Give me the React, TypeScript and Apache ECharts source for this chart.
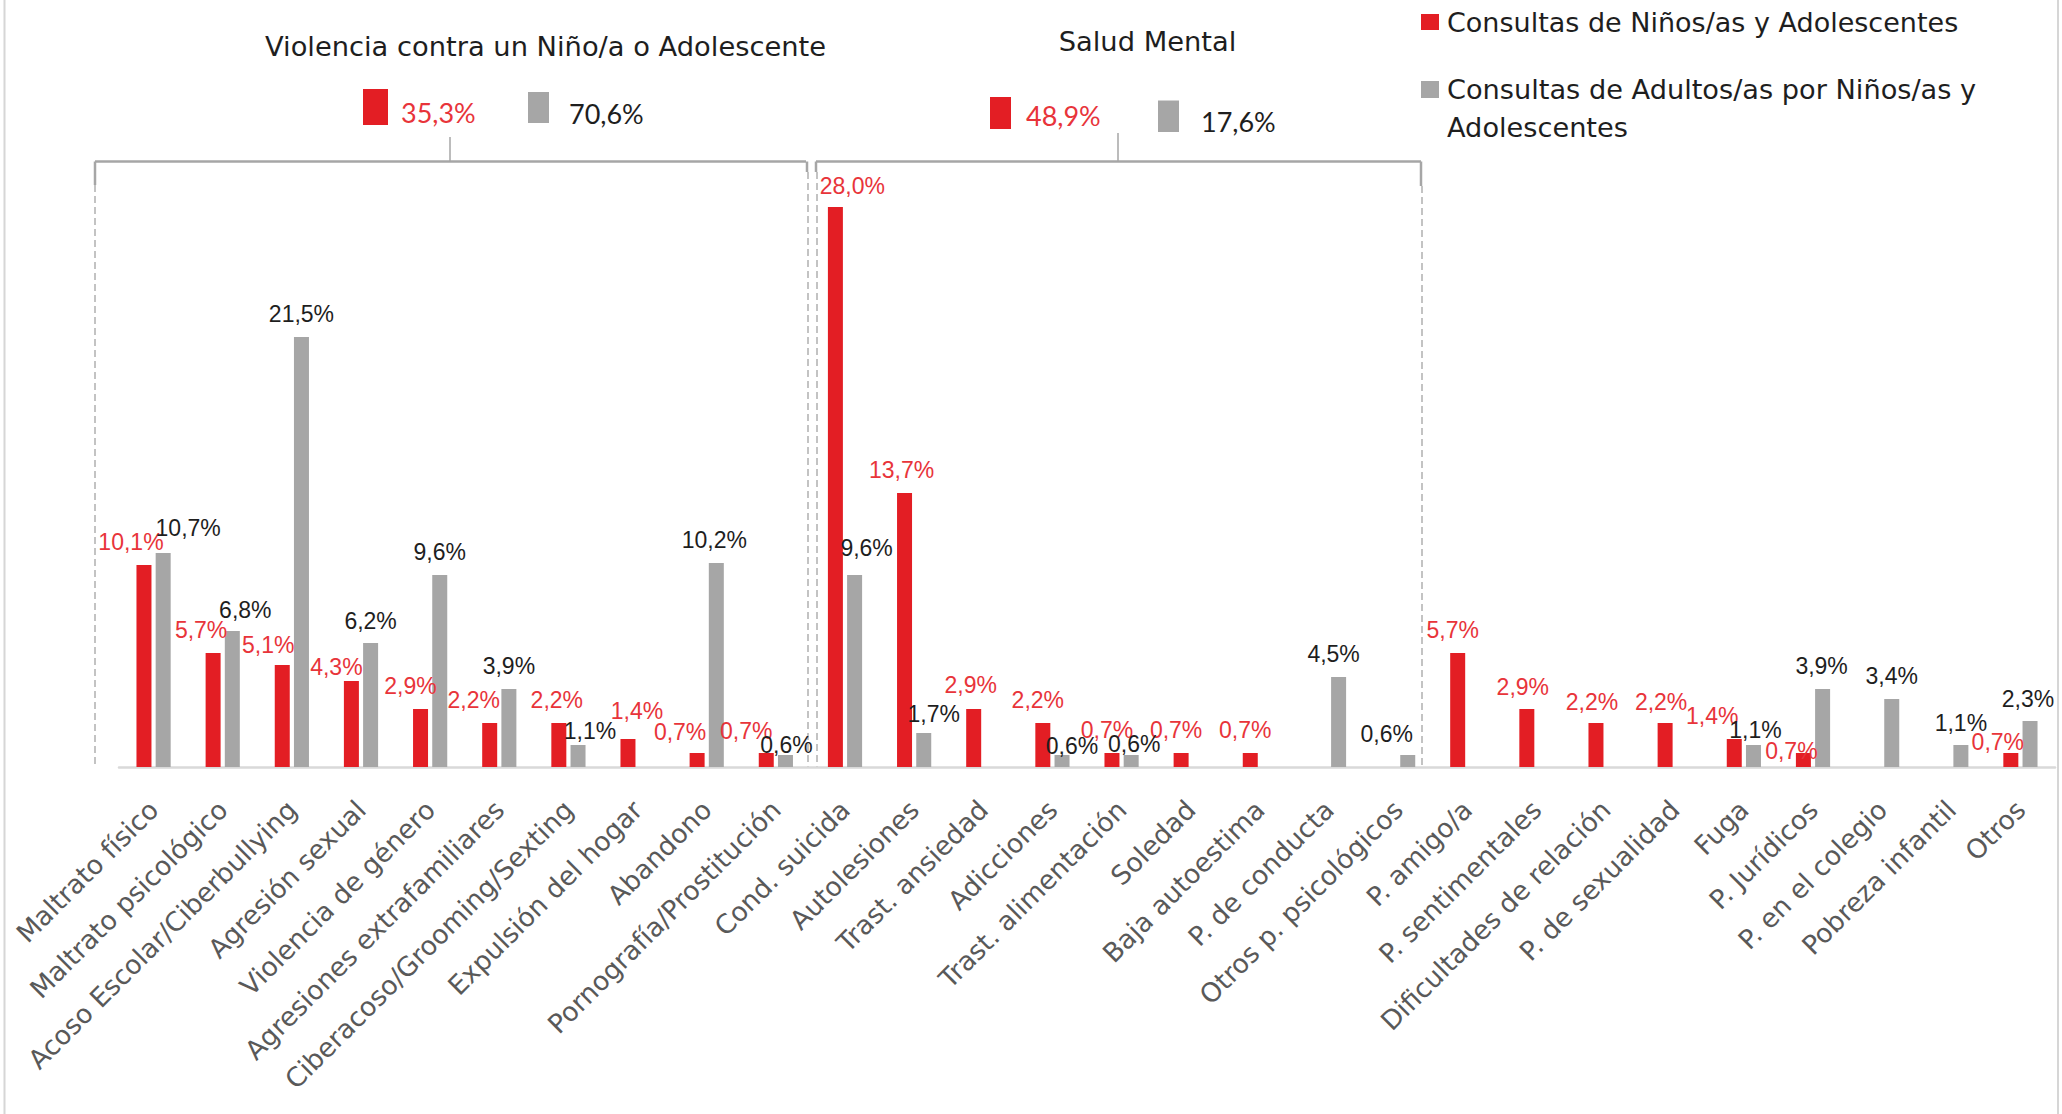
import React, { useEffect, useRef } from "react";
import * as echarts from "echarts";

const categories = [
  "Maltrato físico",
  "Maltrato psicológico",
  "Acoso Escolar/Ciberbullying",
  "Agresión sexual",
  "Violencia de género",
  "Agresiones extrafamiliares",
  "Ciberacoso/Grooming/Sexting",
  "Expulsión del hogar",
  "Abandono",
  "Pornografía/Prostitución",
  "Cond. suicida",
  "Autolesiones",
  "Trast. ansiedad",
  "Adicciones",
  "Trast. alimentación",
  "Soledad",
  "Baja autoestima",
  "P. de conducta",
  "Otros p. psicológicos",
  "P. amigo/a",
  "P. sentimentales",
  "Dificultades de relación",
  "P. de sexualidad",
  "Fuga",
  "P. Jurídicos",
  "P. en el colegio",
  "Pobreza infantil",
  "Otros",
];

const childValues = [
  10.1, 5.7, 5.1, 4.3, 2.9, 2.2, 2.2, 1.4, 0.7, 0.7,
  28.0, 13.7, 2.9, 2.2, 0.7, 0.7, 0.7, null, null,
  5.7, 2.9, 2.2, 2.2, 1.4, 0.7, null, null, 0.7,
];

const adultValues = [
  10.7, 6.8, 21.5, 6.2, 9.6, 3.9, 1.1, null, 10.2, 0.6,
  9.6, 1.7, null, 0.6, 0.6, null, null, 4.5, 0.6,
  null, null, null, null, 1.1, 3.9, 3.4, 1.1, 2.3,
];

const seriesNames = [
  "Consultas de Niños/as y Adolescentes",
  "Consultas de Adultos/as por Niños/as y Adolescentes",
];

const groupTitles = ["Violencia contra un Niño/a o Adolescente", "Salud Mental"];
const groupChildTotals = [35.3, 48.9];
const groupAdultTotals = [70.6, 17.6];

// label nudges (style only), [dx, dy] in px
const childLabelOffsets = [
  [-13, 0], [-12, 0], [-14, 3], [-15, 9], [-10, 0], [-16, 0], [-2, 0], [9, -5], [-17, 2], [-20, 1],
  [17, 2], [-3, 0], [-3, -1], [-5, 0], [-5, 0], [-5, 0], [-5, 0], null, null,
  [-5, 0], [-4, 1], [-4, 2], [-4, 2], [-22, 0], [-12, 21], null, null, [-13, 12],
];
const adultLabelOffsets = [
  [25, -2], [13, 2], [0, 0], [0, 1], [0, 0], [0, 0], [12, 9], null, [-2, 0], [1, 13],
  [12, -4], [10, 4], null, [10, 14], [3, 12], null, null, [-5, 0], [-21, 2],
  null, null, null, null, [2, 8], [-1, 0], [0, 0], [0, 1], [-2, 1],
];

const RED = "#E31E24";
const GRAY = "#A6A6A6";
const RED_TEXT = "#E8343A";
const DARK_TEXT = "#1E1E1E";
const TEXT_FONT = "'DejaVu Sans', Lato, sans-serif";
const NUM_FONT = "Lato, 'Noto Sans', sans-serif";
const LABEL_FONT = "'Liberation Sans', Arial, sans-serif";

const fmt = (v: number) => v.toFixed(1).replace(".", ",") + "%";

function buildData(values: (number | null)[], offsets: (number[] | null)[]) {
  return values.map((v, i) =>
    v == null
      ? null
      : { value: v, label: { offset: offsets[i] || [0, 0] } }
  );
}

export default function App() {
  const ref = useRef<HTMLDivElement>(null);

  useEffect(() => {
    if (!ref.current) return;
    const chart = echarts.init(ref.current, null, { renderer: "svg" });

    const solid = { stroke: GRAY, lineWidth: 2.5 };
    const dashed = { stroke: "#B5B5B5", lineWidth: 1.6, lineDash: [7, 4] };
    const line = (x1: number, y1: number, x2: number, y2: number, style: any) => ({
      type: "line",
      shape: { x1, y1, x2, y2 },
      style,
      silent: true,
    });
    const txt = (x: number, y: number, text: string, fill: string, font: string, size: number, align = "left") => ({
      type: "text",
      x,
      y,
      style: {
        text,
        fill,
        font: `${size}px ${font}`,
        textAlign: align,
        textVerticalAlign: "middle",
      },
      silent: true,
    });
    const rect = (x: number, y: number, w: number, h: number, fill: string) => ({
      type: "rect",
      shape: { x, y, width: w, height: h },
      style: { fill },
      silent: true,
    });

    const graphic: any[] = [
      // outer frame
      line(4.5, 0, 4.5, 1114, { stroke: "#D6D6D6", lineWidth: 2 }),
      line(2058, 0, 2058, 1114, { stroke: "#D6D6D6", lineWidth: 2 }),
      // group 1 bracket
      line(95, 161.5, 806, 161.5, solid),
      line(450, 137, 450, 161.5, { stroke: GRAY, lineWidth: 1.5 }),
      line(95, 161.5, 95, 185, solid),
      line(95, 185, 95, 767, dashed),
      line(807, 161.5, 807, 172, solid),
      line(808, 172, 808, 767, dashed),
      // group 2 bracket
      line(816, 161.5, 1421, 161.5, solid),
      line(1118, 133, 1118, 161.5, { stroke: GRAY, lineWidth: 1.5 }),
      line(816, 161.5, 816, 172, solid),
      line(817, 172, 817, 767, dashed),
      line(1421, 161.5, 1421, 186, solid),
      line(1422, 186, 1422, 767, dashed),
      // group titles
      txt(545.5, 46, groupTitles[0], DARK_TEXT, TEXT_FONT, 27.3, "center"),
      txt(1147.5, 41, groupTitles[1], DARK_TEXT, TEXT_FONT, 27.3, "center"),
      // group totals
      rect(363, 89, 25, 36, RED),
      txt(401, 112, fmt(groupChildTotals[0]), RED_TEXT, NUM_FONT, 27),
      rect(528, 92, 21, 31, GRAY),
      txt(569, 113, fmt(groupAdultTotals[0]), DARK_TEXT, NUM_FONT, 27),
      rect(990, 97, 21, 32, RED),
      txt(1026, 115.5, fmt(groupChildTotals[1]), RED_TEXT, NUM_FONT, 27),
      rect(1158, 100.5, 21, 31.5, GRAY),
      txt(1201, 121, fmt(groupAdultTotals[1]), DARK_TEXT, NUM_FONT, 27),
      // legend
      rect(1421, 14, 18, 16, RED),
      txt(1447, 22, seriesNames[0], DARK_TEXT, TEXT_FONT, 27),
      rect(1421, 81, 18, 17, GRAY),
      txt(1447, 89, "Consultas de Adultos/as por Niños/as y", DARK_TEXT, TEXT_FONT, 27.2),
      txt(1447, 127, "Adolescentes", DARK_TEXT, TEXT_FONT, 27.2),
    ];

    const labelBase = {
      show: true,
      position: "top",
      distance: 12,
      fontFamily: LABEL_FONT,
      fontSize: 23,
      formatter: (p: any) => fmt(p.value),
    };

    chart.setOption({
      animation: false,
      backgroundColor: "#FFFFFF",
      grid: { left: 119, right: 7, top: 167, bottom: 347, containLabel: false },
      xAxis: {
        type: "category",
        data: categories,
        axisLine: { show: true, lineStyle: { color: "#D9D9D9", width: 2.5 } },
        axisTick: { show: false },
        axisLabel: {
          interval: 0,
          rotate: 45,
          margin: 38,
          fontFamily: TEXT_FONT,
          fontSize: 26.5,
          color: "#595959",
        },
      },
      yAxis: {
        type: "value",
        min: 0,
        max: 30,
        show: false,
        splitLine: { show: false },
      },
      series: [
        {
          name: seriesNames[0],
          type: "bar",
          barWidth: 15,
          barGap: "28%",
          itemStyle: { color: RED },
          label: { ...labelBase, color: RED_TEXT },
          data: buildData(childValues, childLabelOffsets),
        },
        {
          name: seriesNames[1],
          type: "bar",
          barWidth: 15,
          barGap: "28%",
          itemStyle: { color: GRAY },
          label: { ...labelBase, color: DARK_TEXT },
          data: buildData(adultValues, adultLabelOffsets),
        },
      ],
      graphic,
    });

    return () => chart.dispose();
  }, []);

  return (
    <div
      ref={ref}
      style={{ position: "fixed", left: 0, top: 0, width: "2062px", height: "1114px", background: "#fff" }}
    />
  );
}
